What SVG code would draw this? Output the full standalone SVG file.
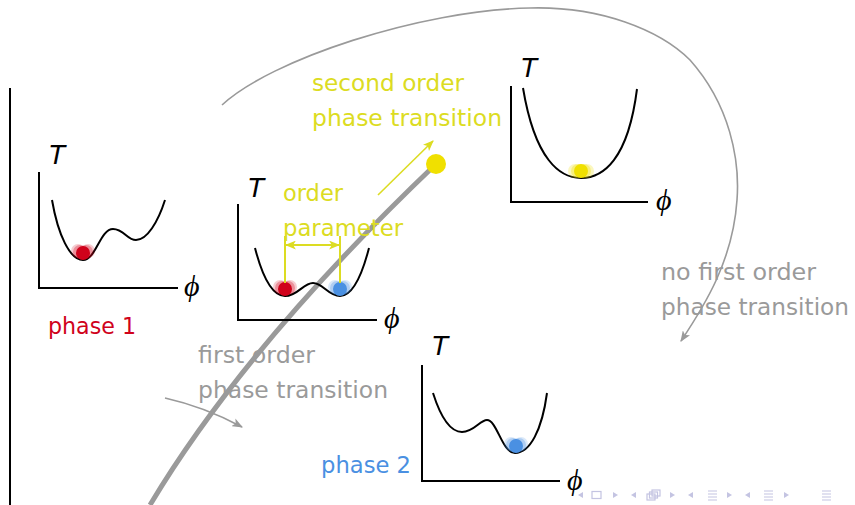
<svg xmlns="http://www.w3.org/2000/svg" width="855" height="505" viewBox="0 0 855 505">
<defs>
<style>
.ax{fill:none;stroke:#000;stroke-width:2}
.cv{fill:none;stroke:#000;stroke-width:2}
.T{font-family:"Liberation Sans",Arial,sans-serif;font-style:italic;font-size:28px;fill:#000}
.phi{font-family:"Liberation Serif","DejaVu Serif",serif;font-style:italic;font-size:30px;fill:#000}
.lbl{font-family:"DejaVu Sans",sans-serif;font-size:23px}
.yel{fill:#dcdc22}
.gry{fill:#9a9a9a}
.red{fill:#d0021b}
.blu{fill:#4a90e2}
.nav{fill:#c4c4e2;stroke:none}
.navs{fill:none;stroke:#c4c4e2;stroke-width:1.2}
</style>
<marker id="ag" viewBox="0 0 10 8" refX="9" refY="4" markerWidth="11" markerHeight="9" markerUnits="userSpaceOnUse" orient="auto"><path d="M0,0 L10,4 L0,8 L2.5,4 z" fill="#9a9a9a"/></marker>
<marker id="ay" viewBox="0 0 10 8" refX="9" refY="4" markerWidth="11" markerHeight="9" markerUnits="userSpaceOnUse" orient="auto-start-reverse"><path d="M0,0 L10,4 L0,8 L2.5,4 z" fill="#dcdc22"/></marker>
<g id="ballR"><circle cx="-5" cy="-2" r="7" fill="#d0021b" opacity="0.2"/><circle cx="5" cy="-2" r="7" fill="#d0021b" opacity="0.2"/><circle cx="-3" cy="-1" r="7" fill="#d0021b" opacity="0.3"/><circle cx="3" cy="-1" r="7" fill="#d0021b" opacity="0.3"/><circle cx="0" cy="0" r="7" fill="#d0021b"/></g>
<g id="ballB"><circle cx="-5" cy="-2" r="7" fill="#4a90e2" opacity="0.2"/><circle cx="5" cy="-2" r="7" fill="#4a90e2" opacity="0.2"/><circle cx="-3" cy="-1" r="7" fill="#4a90e2" opacity="0.3"/><circle cx="3" cy="-1" r="7" fill="#4a90e2" opacity="0.3"/><circle cx="0" cy="0" r="7" fill="#4a90e2"/></g>
<g id="ballY"><circle cx="-6" cy="0" r="7" fill="#f0e000" opacity="0.25"/><circle cx="6" cy="0" r="7" fill="#f0e000" opacity="0.25"/><circle cx="-3" cy="0" r="7" fill="#f0e000" opacity="0.35"/><circle cx="3" cy="0" r="7" fill="#f0e000" opacity="0.35"/><circle cx="0" cy="0" r="7" fill="#f0e000"/></g>
</defs>
<rect width="855" height="505" fill="#fff"/>

<line x1="10" y1="88" x2="10" y2="505" stroke="#000" stroke-width="2"/>

<g id="connectors">
<path d="M436,164 Q246,345 150,505" fill="none" stroke="#9a9a9a" stroke-width="5"/>
<path d="M222,105 C270,60 420,10 530,8 C600,6 660,30 690,60 C730,105 740,160 737,200 C733,260 705,305 681,341" fill="none" stroke="#9a9a9a" stroke-width="1.6" marker-end="url(#ag)"/>
<path d="M165,398 Q205,407 242,427" fill="none" stroke="#9a9a9a" stroke-width="1.6" marker-end="url(#ag)"/>
<line x1="378" y1="195" x2="433" y2="141" stroke="#dcdc22" stroke-width="1.6" marker-end="url(#ay)"/>
</g>

<g id="critical-point"><circle cx="436" cy="164" r="10" fill="#f0e000"/></g>

<g id="phase1">
<path class="ax" d="M39,172 V288 H178"/>
<text class="T" x="48" y="164">T</text>
<text class="phi" x="184" y="296">ϕ</text>
<path class="cv" d="M52,200 C58,235 70,260 83,260 C96,260 100,229 113,229 C124,229 127,240 136,240 C147,240 158,222 165,200"/>
<use href="#ballR" x="83" y="253"/>
<text class="lbl red" x="48" y="334" textLength="88" lengthAdjust="spacingAndGlyphs">phase 1</text>
</g>

<g id="coexistence">
<path class="ax" d="M238,204 V320 H377"/>
<text class="T" x="247" y="197">T</text>
<text class="phi" x="384" y="328">ϕ</text>
<path class="cv" d="M255,248 C262,275 272,296 285,296 C298,296 303,283 313,283 C323,283 328,296 340,296 C353,296 362,275 369,248"/>
<use href="#ballR" x="285" y="289"/>
<use href="#ballB" x="340" y="289"/>
<line x1="285" y1="236" x2="285" y2="283" stroke="#dcdc22" stroke-width="2"/>
<line x1="340" y1="236" x2="340" y2="283" stroke="#dcdc22" stroke-width="2"/>
<line x1="286" y1="245" x2="339" y2="245" stroke="#dcdc22" stroke-width="2" marker-start="url(#ay)" marker-end="url(#ay)"/>
<text class="lbl yel" x="283" y="201" textLength="60" lengthAdjust="spacingAndGlyphs">order</text>
<text class="lbl yel" x="283" y="236" textLength="120" lengthAdjust="spacingAndGlyphs">parameter</text>
</g>

<g id="phase-top">
<path class="ax" d="M511,86 V202 H648"/>
<text class="T" x="520" y="77">T</text>
<text class="phi" x="656" y="210">ϕ</text>
<path class="cv" d="M523,88 C535,160 560,178 581,178 C603,178 628,160 637,89"/>
<use href="#ballY" x="581" y="171"/>
</g>

<g id="phase2">
<path class="ax" d="M422,365 V481 H560"/>
<text class="T" x="431" y="355">T</text>
<text class="phi" x="567" y="490">ϕ</text>
<path class="cv" d="M433,393 C440,415 450,432 462,432 C474,432 480,420 487,420 C497,420 502,453 515,453 C530,453 542,430 547,393"/>
<use href="#ballB" x="516" y="446"/>
<text class="lbl blu" x="321" y="473" textLength="90" lengthAdjust="spacingAndGlyphs">phase 2</text>
</g>

<g id="labels">
<text class="lbl yel" x="312" y="91" textLength="152" lengthAdjust="spacingAndGlyphs">second order</text>
<text class="lbl yel" x="312" y="126" textLength="190" lengthAdjust="spacingAndGlyphs">phase transition</text>
<text class="lbl gry" x="198" y="363" textLength="117" lengthAdjust="spacingAndGlyphs">first order</text>
<text class="lbl gry" x="198" y="398" textLength="190" lengthAdjust="spacingAndGlyphs">phase transition</text>
<text class="lbl gry" x="661" y="280" textLength="155" lengthAdjust="spacingAndGlyphs">no first order</text>
<text class="lbl gry" x="661" y="315" textLength="188" lengthAdjust="spacingAndGlyphs">phase transition</text>
</g>

<g id="navigation">
<path class="nav" d="M583,492 L578,495 L583,498 z"/>
<rect class="navs" x="592" y="491.5" width="9" height="7"/>
<path class="nav" d="M613,492 L618,495 L613,498 z"/>
<path class="nav" d="M636,492 L631,495 L636,498 z"/>
<rect class="navs" x="647" y="494" width="8" height="6"/>
<rect class="navs" x="649.5" y="492" width="8" height="6"/>
<rect class="navs" x="652" y="490" width="8" height="6"/>
<path class="nav" d="M670,492 L675,495 L670,498 z"/>
<path class="nav" d="M693,492 L688,495 L693,498 z"/>
<path class="navs" d="M708,491 H717 M708,494 H717 M708,497 H717 M708,500 H717"/>
<path class="nav" d="M727,492 L732,495 L727,498 z"/>
<path class="nav" d="M750,492 L745,495 L750,498 z"/>
<path class="navs" d="M764,491 H773 M764,494 H773 M764,497 H773 M764,500 H773"/>
<path class="nav" d="M784,492 L789,495 L784,498 z"/>
<path class="navs" d="M822,491 H831 M822,494 H831 M822,497 H831 M822,500 H831"/>
</g>
</svg>
